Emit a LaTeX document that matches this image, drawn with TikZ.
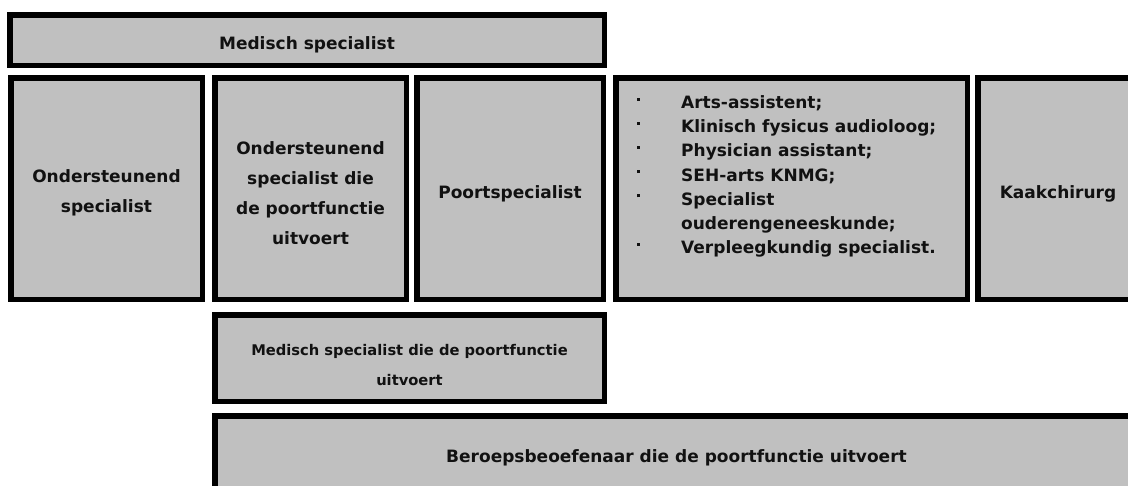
\documentclass[tikz,border=0pt]{standalone}
\usepackage{fontspec}
\setmainfont{DejaVu Sans}
\definecolor{boxgray}{HTML}{C0C0C0}
\definecolor{ink}{HTML}{111111}
\tikzset{
  boxnode/.style={draw=black, line width=5.5pt, fill=boxgray, inner sep=0pt, outer sep=0pt},
  lbl/.style={text=ink, align=center, inner sep=0pt, font=\bfseries\fontsize{17}{30}\selectfont},
  smalllbl/.style={lbl, font=\bfseries\fontsize{14.7}{30}\selectfont},
  listlbl/.style={text=ink, align=left, inner sep=0pt, anchor=base west, font=\bfseries\fontsize{17}{24.2}\selectfont},
}
\newcommand{\bul}{\makebox[47pt][l]{\hspace{3pt}\rule[8pt]{3pt}{3pt}}}
\begin{document}
\begin{tikzpicture}[x=1pt,y=-1pt]
\useasboundingbox (0,0) rectangle (1128,485);
% top
\node[boxnode, minimum width=594.5pt, minimum height=50.5pt] (ms) at (307,40) {};
\node[lbl] (mst) at ([yshift=-5pt]ms.center) {Medisch specialist};
% row 2
\node[boxnode, minimum width=191.5pt, minimum height=221.5pt] (os) at (106.5,188.5) {};
\node[lbl] (ost) at ([yshift=-4.5pt]os.center) {Ondersteunend\\specialist};
\node[boxnode, minimum width=191.5pt, minimum height=221.5pt] (osp) at (310.5,188.5) {};
\node[lbl] (ospt) at ([yshift=-4.5pt]osp.center) {Ondersteunend\\specialist die\\de poortfunctie\\uitvoert};
\node[boxnode, minimum width=186.5pt, minimum height=221.5pt] (ps) at (510,188.5) {};
\node[lbl] (pst) at ([yshift=-5.5pt]ps.center) {Poortspecialist};
\node[boxnode, minimum width=351.5pt, minimum height=221.5pt] (lb) at (791.5,188.5) {};
\node[listlbl] (lbt) at (634,253.7) {\bul Arts-assistent;\\
\bul Klinisch fysicus audioloog;\\
\bul Physician assistant;\\
\bul SEH-arts KNMG;\\
\bul Specialist\\
\hspace*{47pt}ouderengeneeskunde;\\
\bul Verpleegkundig specialist.};
\node[boxnode, minimum width=160.5pt, minimum height=221.5pt] (kc) at (1058,188.5) {};
\node[lbl] (kct) at ([yshift=-5.5pt]kc.center) {Kaakchirurg};
% row 3
\node[boxnode, minimum width=389.5pt, minimum height=86.5pt] (msp) at (409.5,358) {};
\node[smalllbl] (mspt) at ([yshift=-7pt]msp.center) {Medisch specialist die de poortfunctie\\uitvoert};
% row 4
\node[boxnode, minimum width=923.5pt, minimum height=84.5pt] (bb) at (676.5,458) {};
\node[lbl] (bbt) at (bb.center) {Beroepsbeoefenaar die de poortfunctie uitvoert};
\end{tikzpicture}
\end{document}
